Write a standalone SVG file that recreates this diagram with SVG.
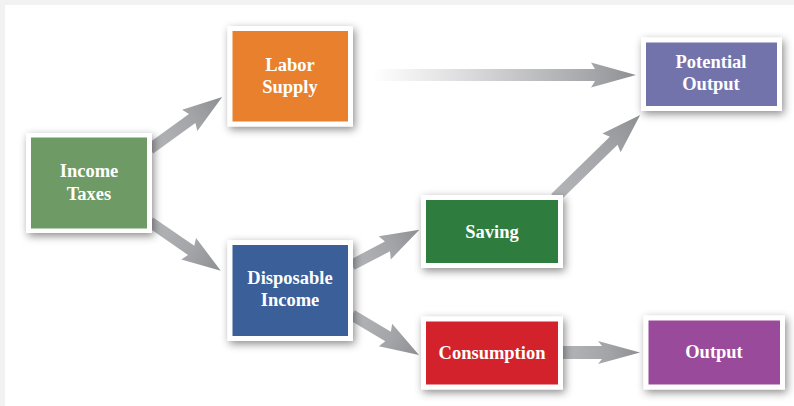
<svg xmlns="http://www.w3.org/2000/svg" width="794" height="406" viewBox="0 0 794 406">
<style>
.lbl{font-family:"Liberation Serif","Times New Roman",serif;font-weight:bold;font-size:18.5px;fill:#ffffff;text-anchor:middle}
.frame{fill:#ffffff}
.arrow{fill:url(#ag)}
</style>
<defs>
<filter id="sh" x="-30%" y="-30%" width="160%" height="170%">
<feDropShadow dx="2" dy="3" stdDeviation="4" flood-color="#000" flood-opacity="0.45"/>
</filter>
<linearGradient id="ag" x1="0" y1="0" x2="1" y2="0">
<stop offset="0" stop-color="#b4b5b8"/>
<stop offset="0.6" stop-color="#a3a4a7"/>
<stop offset="1" stop-color="#8e8f92"/>
</linearGradient>
<linearGradient id="ag3" x1="0" y1="0" x2="1" y2="0">
<stop offset="0" stop-color="#ffffff"/>
<stop offset="0.35" stop-color="#dcdcde"/>
<stop offset="0.85" stop-color="#a3a4a7"/>
<stop offset="1" stop-color="#8e8f92"/>
</linearGradient>
</defs>
<rect x="0" y="0" width="794" height="406" fill="#f2f2f2"/>
<rect x="5" y="5" width="789" height="401" fill="#ffffff"/>

<g id="connectors">
<polygon class="arrow" transform="translate(150,149) rotate(-35.8)" points="0,-5.5 52,-5.5 49,-13 89,0 49,13 52,5.5 0,5.5"/>
<polygon class="arrow" transform="translate(150,222) rotate(34.6)" points="0,-5.5 50,-5.5 47,-13 86,0 47,13 50,5.5 0,5.5"/>
<polygon fill="url(#ag3)" transform="translate(373,75)" points="0,-6 222,-6 218,-12.5 263,0 218,12.5 222,6 0,6"/>
<polygon class="arrow" transform="translate(352,265) rotate(-27.6)" points="0,-5.5 40,-5.5 37,-13 76,0 37,13 40,5.5 0,5.5"/>
<polygon class="arrow" transform="translate(352,315) rotate(30.8)" points="0,-5.5 42,-5.5 39,-13 78,0 39,13 42,5.5 0,5.5"/>
<polygon class="arrow" transform="translate(555,198) rotate(-44.3)" points="0,-5.5 82,-5.5 79,-13 119,0 79,13 82,5.5 0,5.5"/>
<polygon class="arrow" transform="translate(562,352.5)" points="0,-6.5 40,-6.5 36,-11.5 78,0 36,11.5 40,6.5 0,6.5"/>
</g>

<g id="income-taxes">
<rect class="frame" x="26" y="133" width="126" height="100" filter="url(#sh)"/>
<rect x="31" y="137.5" width="116" height="91" fill="#6e9a65"/>
<text class="lbl" x="89" y="177">Income</text>
<text class="lbl" x="89" y="199.5">Taxes</text>
</g>

<g id="labor-supply">
<rect class="frame" x="227.5" y="26" width="125.5" height="100.5" filter="url(#sh)"/>
<rect x="232.5" y="31" width="115.5" height="90.5" fill="#e8802d"/>
<text class="lbl" x="290" y="71">Labor</text>
<text class="lbl" x="290" y="93">Supply</text>
</g>

<g id="potential-output">
<rect class="frame" x="641" y="37.5" width="141" height="73.5" filter="url(#sh)"/>
<rect x="646" y="42.5" width="131" height="63.5" fill="#7373ab"/>
<text class="lbl" x="711" y="67.5">Potential</text>
<text class="lbl" x="711" y="90">Output</text>
</g>

<g id="saving">
<rect class="frame" x="421" y="195" width="142" height="73" filter="url(#sh)"/>
<rect x="426" y="200" width="132" height="63" fill="#2e7d3e"/>
<text class="lbl" x="492" y="237.5">Saving</text>
</g>

<g id="disposable-income">
<rect class="frame" x="227.5" y="240" width="125.5" height="101" filter="url(#sh)"/>
<rect x="232.5" y="245" width="115.5" height="91" fill="#3a5f99"/>
<text class="lbl" x="290" y="284">Disposable</text>
<text class="lbl" x="290" y="306">Income</text>
</g>

<g id="consumption">
<rect class="frame" x="421" y="316.5" width="142" height="73" filter="url(#sh)"/>
<rect x="426" y="321.5" width="132" height="63" fill="#d3222b"/>
<text class="lbl" x="492" y="358.5">Consumption</text>
</g>

<g id="output">
<rect class="frame" x="643.5" y="315.5" width="141.5" height="74" filter="url(#sh)"/>
<rect x="648.5" y="320.5" width="131.5" height="64" fill="#9a4a9a"/>
<text class="lbl" x="714" y="357.5">Output</text>
</g>
</svg>
